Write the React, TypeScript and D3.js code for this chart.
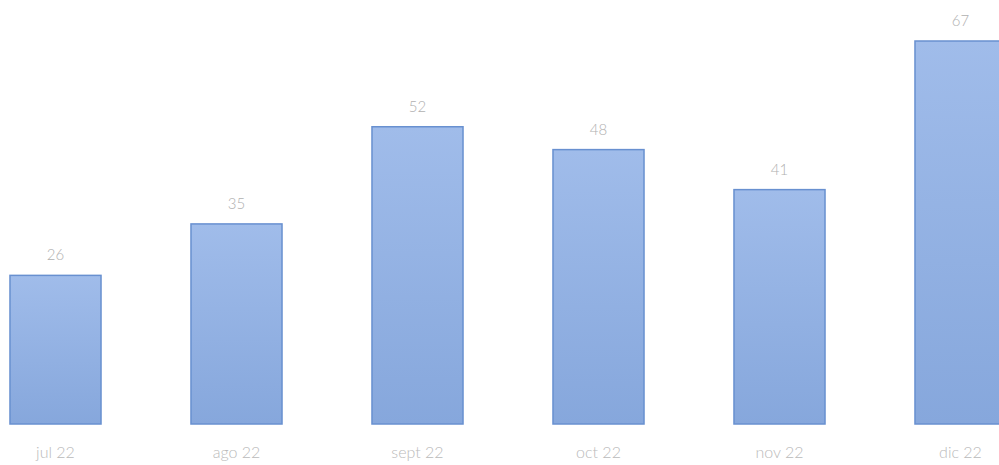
import React from "react";
import * as d3 from "d3";

const categories = ["jul 22", "ago 22", "sept 22", "oct 22", "nov 22", "dic 22"];
const values = [26, 35, 52, 48, 41, 67];

export default function App() {
  const W = 999, H = 465;
  const x = d3.scaleBand<string>().domain(categories).range([-35, 1051]).paddingInner(0.497).paddingOuter(0.2485);
  const y = d3.scaleLinear().domain([0, 67]).range([424, 41]);
  return (
    <svg width={W} height={H} style={{ position: "absolute", left: 0, top: 0, background: "#fff" }}>
      <defs>
        <linearGradient id="bg" x1="0" y1="0" x2="0" y2="1">
          <stop offset="0%" stopColor="#a0bcea" />
          <stop offset="100%" stopColor="#86a7dc" />
        </linearGradient>
      </defs>
      {categories.map((c, i) => (
        <g key={c}>
          <rect x={x(c)} y={y(values[i])} width={x.bandwidth()} height={y(0) - y(values[i])}
            fill="url(#bg)" stroke="#6890d0" strokeWidth={1.5} />
          <text x={(x(c) as number) + x.bandwidth() / 2} y={y(values[i]) - 15} textAnchor="middle"
            fontFamily="Lato, 'Open Sans', sans-serif" fontWeight={300} fontSize={15} fill="#b0b0b0">{values[i]}</text>
          <text x={(x(c) as number) + x.bandwidth() / 2} y={458} textAnchor="middle"
            fontFamily="Lato, 'Open Sans', sans-serif" fontWeight={300} fontSize={16} fill="#bababa">{c}</text>
        </g>
      ))}
    </svg>
  );
}
